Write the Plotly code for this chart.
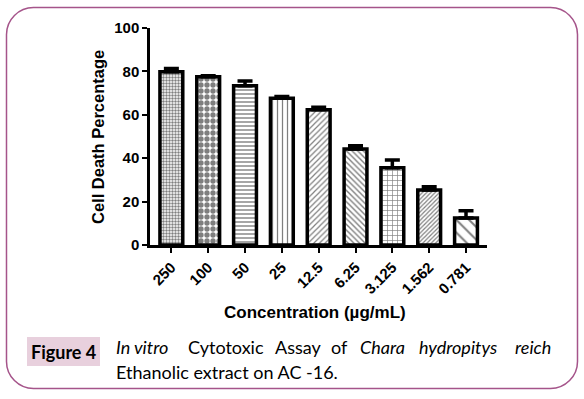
import plotly.graph_objects as go

categories = ["250", "100", "50", "25", "12.5", "6.25", "3.125", "1.562", "0.781"]
cell_death = [79.8, 77.5, 73.4, 67.6, 62.3, 44.2, 35.6, 25.4, 12.4]
err_plus = [1.5, 0.5, 2.2, 0.8, 1.2, 1.5, 3.6, 1.4, 3.4]

pat_shape = [".", ".", "-", "|", "/", "\\", "+", "/", "\\"]
pat_size = [3, 6, 4, 5, 4, 4, 5, 3, 9]
pat_solid = [0.5, 0.62, 0.35, 0.25, 0.3, 0.35, 0.25, 0.4, 0.22]

W, H = 584, 399
L, R, T, B = 150, 97, 28, 154
PW, PH = W - L - R, H - T - B

def px(xp):
    return (xp - L) / PW

def py(yp):
    return (H - B - yp) / PH

fig = go.Figure()
fig.add_trace(go.Bar(
    x=categories, y=cell_death, width=0.62,
    marker=dict(color="white",
                line=dict(color="black", width=3.5),
                pattern=dict(shape=pat_shape, size=pat_size, solidity=pat_solid,
                             fgcolor="black", bgcolor="white", fillmode="overlay")),
    error_y=dict(type="data", symmetric=False, array=err_plus,
                 arrayminus=[0] * len(err_plus), color="black", thickness=3.5, width=7.5),
    showlegend=False,
))

# rounded frame
x0, x1, y0, y1 = 6.5, 577.5, 7.5, 388.5
r = 27
k = 0.55 * r
pts = [
    f"M {px(x0 + r)} {py(y0)}",
    f"L {px(x1 - r)} {py(y0)}",
    f"C {px(x1 - r + k)} {py(y0)} {px(x1)} {py(y0 + r - k)} {px(x1)} {py(y0 + r)}",
    f"L {px(x1)} {py(y1 - r)}",
    f"C {px(x1)} {py(y1 - r + k)} {px(x1 - r + k)} {py(y1)} {px(x1 - r)} {py(y1)}",
    f"L {px(x0 + r)} {py(y1)}",
    f"C {px(x0 + r - k)} {py(y1)} {px(x0)} {py(y1 - r + k)} {px(x0)} {py(y1 - r)}",
    f"L {px(x0)} {py(y0 + r)}",
    f"C {px(x0)} {py(y0 + r - k)} {px(x0 + r - k)} {py(y0)} {px(x0 + r)} {py(y0)} Z",
]
fig.add_shape(type="path", path=" ".join(pts), xref="paper", yref="paper",
              line=dict(color="#A5548A", width=1.5), fillcolor="rgba(0,0,0,0)", layer="below")

# Figure 4 label box
fig.add_shape(type="rect", xref="paper", yref="paper",
              x0=px(27), x1=px(100), y0=py(337), y1=py(366),
              fillcolor="#E8D0DD", line=dict(width=0), layer="below")

cap_font = dict(family="Lato, Noto Sans, sans-serif", size=18, color="black")
fig.add_annotation(text="<b>Figure 4</b>", x=px(63.5), y=py(352), xref="paper", yref="paper",
                   showarrow=False, xanchor="center", yanchor="middle", font=cap_font)

words = [("<i>In vitro</i>", 114, "left"), ("Cytotoxic", 225.5, "center"), ("Assay", 298, "center"),
         ("of", 339.5, "center"), ("<i>Chara</i>", 382, "center"), ("<i>hydropitys</i>", 458, "center"),
         ("<i>reich</i>", 553, "right")]
for t, xx, anc in words:
    fig.add_annotation(text=t, x=px(xx), y=py(347), xref="paper", yref="paper",
                       showarrow=False, xanchor=anc, yanchor="middle", font=cap_font)
fig.add_annotation(text="Ethanolic extract on AC -16.", x=px(114), y=py(372), xref="paper", yref="paper",
                   showarrow=False, xanchor="left", yanchor="middle", font=cap_font)

ax_font = dict(family="Arial, Liberation Sans, sans-serif", color="black")
fig.add_annotation(text="<b>Cell Death Percentage</b>", x=px(98), y=py(137), xref="paper", yref="paper",
                   showarrow=False, textangle=-90, xanchor="center", yanchor="middle",
                   font=dict(size=16.5, **ax_font))
fig.add_annotation(text="<b>Concentration (µg/mL)</b>", x=px(315), y=py(312), xref="paper", yref="paper",
                   showarrow=False, xanchor="center", yanchor="middle",
                   font=dict(size=17, **ax_font))

fig.update_layout(
    width=W, height=H,
    margin=dict(l=L, r=R, t=T, b=B, autoexpand=False),
    paper_bgcolor="white", plot_bgcolor="white",
    xaxis=dict(type="category", range=[-0.58, 8.57], showline=True, linecolor="black", linewidth=2.5,
               ticks="outside", ticklen=5, tickwidth=2, tickcolor="black", tickangle=-45,
               tickfont=dict(size=15, weight="bold", **ax_font), showgrid=False, zeroline=False),
    yaxis=dict(range=[0, 100], dtick=20, showline=True, linecolor="black", linewidth=2.5,
               ticks="outside", ticklen=5, tickwidth=2, tickcolor="black",
               tickfont=dict(size=15, weight="bold", **ax_font), showgrid=False, zeroline=False),
)

fig.write_html("out.html", config={"displayModeBar": False},
               post_script="document.body.style.margin='0';")
